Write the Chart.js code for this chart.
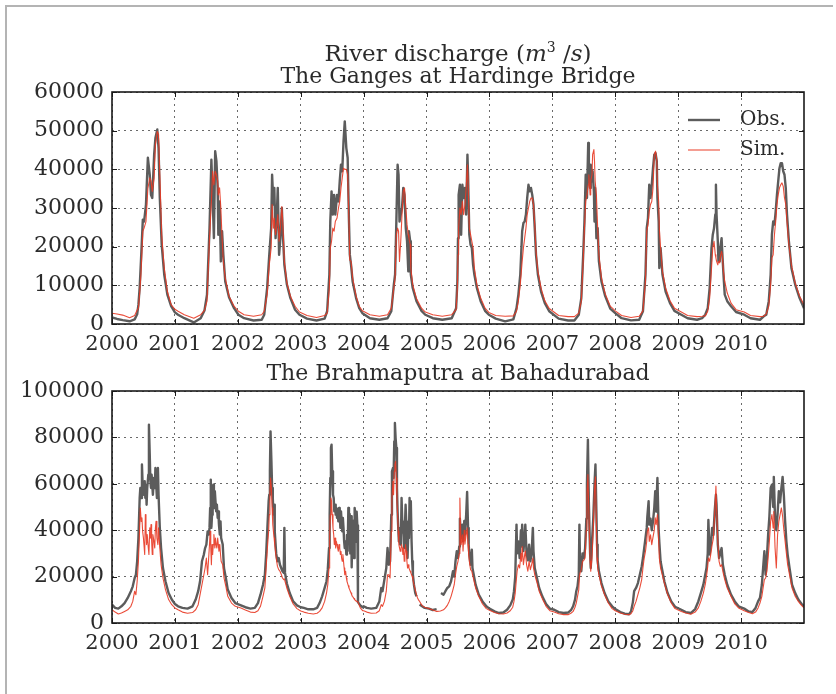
<!DOCTYPE html>
<html>
<head>
<meta charset="utf-8">
<title>River discharge</title>
<script src="https://cdn.jsdelivr.net/npm/chart.js@4.4.0/dist/chart.umd.min.js"></script>
<style>
body{margin:0;background:#fff;}
#page{position:relative;width:836px;height:694px;overflow:hidden;font-family:"DejaVu Serif",serif;color:#2b2b2b;}
#frame{position:absolute;left:5px;top:5px;width:826px;height:689px;border-left:2px solid #b4b4b4;border-top:2px solid #b4b4b4;}
canvas{position:absolute;left:0;}
.ttl{position:absolute;left:112px;width:692px;text-align:center;white-space:nowrap;line-height:24px;}
</style>
</head>
<body>
<div id="page">
<div id="frame"></div>
<canvas id="ganges" width="836" height="360" style="top:0"></canvas>
<canvas id="brahma" width="836" height="334" style="top:360px"></canvas>
<div class="ttl" style="top:35px;font-size:23px">River discharge (<i>m</i><sup style="font-size:14px">3</sup> /<i>s</i>)</div>
<div class="ttl" style="top:64px;font-size:22px">The Ganges at Hardinge Bridge</div>
<div class="ttl" style="top:361px;font-size:22px">The Brahmaputra at Bahadurabad</div>
</div>
<script>
// decimal years, observed and simulated discharge (m3/s)
const gangesT = [
2000.00,2000.08,2000.17,2000.28,2000.36,2000.40,2000.42,2000.44,2000.46,2000.49,2000.51,2000.54,2000.57,2000.60,2000.62,2000.64,2000.67,2000.69,2000.72,2000.74,2000.76,2000.79,2000.83,2000.88,2000.94,
2001.00,2001.05,2001.15,2001.30,2001.41,2001.47,2001.51,2001.55,2001.58,2001.60,2001.62,2001.64,2001.66,2001.68,2001.69,2001.71,2001.73,2001.75,2001.77,2001.80,2001.86,2001.94,
2002.01,2002.10,2002.25,2002.38,2002.42,2002.466,2002.50,2002.53,2002.545,2002.566,2002.58,2002.60,2002.62,2002.635,2002.656,2002.677,2002.70,2002.714,2002.74,2002.78,2002.836,2002.91,2002.98,
2003.10,2003.25,2003.38,2003.42,2003.455,2003.47,2003.49,2003.51,2003.53,2003.55,2003.577,2003.60,2003.62,2003.64,2003.66,2003.68,2003.70,2003.725,2003.746,2003.767,2003.78,2003.80,2003.825,2003.88,2003.93,2003.98,
2004.10,2004.25,2004.38,2004.44,2004.48,2004.50,2004.52,2004.54,2004.555,2004.57,2004.59,2004.61,2004.63,2004.65,2004.67,2004.69,2004.71,2004.72,2004.74,2004.75,2004.78,2004.84,2004.92,2004.98,
2005.10,2005.25,2005.40,2005.47,2005.49,2005.50,2005.51,2005.53,2005.55,2005.57,2005.59,2005.61,2005.63,2005.65,2005.66,2005.68,2005.70,2005.72,2005.74,2005.76,2005.80,2005.86,2005.93,2005.99,
2006.10,2006.25,2006.38,2006.43,2006.46,2006.49,2006.52,2006.54,2006.56,2006.58,2006.60,2006.62,2006.64,2006.66,2006.68,2006.70,2006.72,2006.74,2006.77,2006.82,2006.88,2006.95,
2007.10,2007.25,2007.35,2007.42,2007.46,2007.49,2007.51,2007.53,2007.55,2007.57,2007.58,2007.60,2007.61,2007.63,2007.64,2007.66,2007.67,2007.68,2007.70,2007.72,2007.74,2007.78,2007.84,2007.92,
2008.00,2008.10,2008.25,2008.38,2008.44,2008.48,2008.50,2008.52,2008.54,2008.56,2008.58,2008.60,2008.62,2008.64,2008.66,2008.67,2008.69,2008.70,2008.72,2008.75,2008.80,2008.87,2008.94,
2009.05,2009.15,2009.30,2009.38,2009.43,2009.47,2009.50,2009.53,2009.55,2009.57,2009.59,2009.60,2009.61,2009.63,2009.64,2009.66,2009.67,2009.69,2009.70,2009.72,2009.74,2009.78,2009.84,2009.92,
2010.05,2010.15,2010.30,2010.36,2010.40,2010.44,2010.47,2010.49,2010.51,2010.53,2010.55,2010.57,2010.59,2010.61,2010.63,2010.65,2010.67,2010.69,2010.71,2010.73,2010.76,2010.80,2010.86,2010.93,2011.00
];
const gangesObs = [
1700,1300,1000,700,1200,2500,5000,9500,16200,27000,26500,30900,43000,38600,33400,32600,43800,48100,50300,45500,32600,20500,12800,7600,4600,
3000,2400,1500,400,1500,3500,7600,24800,42500,32600,22200,44700,42100,35200,23100,31700,16200,24000,17900,11000,6900,4100,
2400,1500,900,1100,2400,9300,17900,24800,38600,30900,35200,22200,28300,35200,17900,22200,30000,24000,15300,10200,6700,3700,2400,
1400,900,1400,3300,12800,26500,34300,28300,33400,28300,33400,31700,36900,41200,39500,47200,52400,45500,43000,26500,18000,15300,11000,6700,4100,2800,
1500,1100,1500,3300,10200,12800,26500,41200,38600,26500,28300,30000,35200,33400,24800,21400,13600,24000,21400,12800,9300,5900,3400,2400,
1500,1100,1500,4100,11000,22200,33400,36000,23100,36000,32600,35200,28300,43800,38600,23100,20500,19700,15300,12800,9300,5900,3400,2400,
1400,700,1200,4100,7600,12800,24000,26100,26500,28300,32600,36000,34300,35200,33400,30900,24800,17900,12800,8400,5400,3300,
1400,900,900,2400,6700,17900,26500,38600,32600,46800,39500,35200,41200,36900,39500,34300,26500,35200,22200,24800,16200,11000,7200,4000,
2800,1500,950,1100,3300,12800,24800,27400,36000,32600,36000,40300,43800,44200,42100,32600,26500,14500,19700,12800,8400,5400,3400,
2400,1500,1100,1500,2400,4100,9300,19700,23100,24800,28300,36000,28300,21400,16200,16200,19700,22200,18800,12800,7600,5900,4600,3100,
2400,1500,1100,2000,2400,5900,12800,23100,26500,25700,29100,33400,36900,40300,41600,41600,39500,38600,35200,28300,21400,14500,10200,6700,4100
];
const gangesSim = [
2800,2600,2300,1600,2200,3600,4100,8000,12800,24000,24800,26500,35000,37800,37000,34300,37800,46400,49800,49000,38600,23100,14500,8400,5000,
3800,3300,2400,1500,2400,3500,5900,22200,31700,39500,36000,39500,38600,37000,33400,35200,30000,22200,16200,11900,7200,4600,
3300,2400,2000,2400,3300,7600,15300,19700,30900,24800,27400,23100,25700,28300,21400,24800,30400,26500,16200,10600,7200,4600,3100,
2200,1700,2200,2800,9300,19700,21400,24800,24000,26500,27400,30000,31700,35200,37800,40300,40000,40000,38600,26500,16500,16200,11900,7200,4600,3400,
2400,2000,2400,4100,9300,11900,23100,24800,24000,16200,21400,28300,34300,35200,30000,25700,23100,22200,20500,14500,10200,6600,4100,3100,
2400,2000,2400,3700,9300,17900,24800,30000,28300,31700,28300,30900,35200,41200,37000,24800,23100,21400,19700,14500,10200,6700,4100,3000,
2200,2000,2100,3300,5900,10200,16200,19700,22200,24800,28300,30000,31700,32600,32600,30900,25700,18800,13600,9300,6000,4000,
2200,1900,1900,2800,5900,16200,24800,31700,33400,36000,38600,33400,37000,38600,43800,45100,42100,37000,33400,24800,17900,11900,7800,4600,
3400,2200,1700,2000,3400,11000,24000,25700,29100,30900,31700,35200,43800,44700,42500,36000,31700,24800,19700,13600,9300,6000,4100,
3100,2200,1900,2000,2100,3300,6700,14500,19700,21400,17900,17100,16200,15300,16200,15800,17500,18800,17900,13600,11000,8000,5400,3700,
3100,2200,1900,2000,2600,4600,10200,17100,17900,23100,26500,30900,33400,35200,36000,36500,35600,32600,30900,26500,20500,15300,10600,7200,5000
];

const brahmaT = [
2000.00,2000.05,2000.10,2000.15,2000.20,2000.25,2000.30,2000.33,2000.36,2000.38,2000.40,2000.42,2000.44,2000.45,2000.465,2000.476,2000.487,2000.50,2000.52,2000.53,2000.54,2000.55,2000.56,2000.577,2000.587,2000.60,2000.61,2000.62,2000.63,2000.64,2000.65,2000.667,2000.68,2000.69,2000.70,2000.714,2000.73,2000.74,2000.76,2000.78,2000.81,2000.85,2000.90,2000.95,
2001.00,2001.05,2001.12,2001.20,2001.28,2001.33,2001.37,2001.40,2001.43,2001.46,2001.48,2001.50,2001.52,2001.54,2001.55,2001.56,2001.57,2001.58,2001.59,2001.60,2001.61,2001.62,2001.635,2001.645,2001.656,2001.667,2001.68,2001.69,2001.70,2001.714,2001.725,2001.735,2001.76,2001.78,2001.81,2001.84,2001.90,2001.96,
2002.05,2002.12,2002.20,2002.27,2002.32,2002.36,2002.40,2002.43,2002.45,2002.47,2002.49,2002.50,2002.51,2002.52,2002.534,2002.545,2002.556,2002.566,2002.577,2002.587,2002.61,2002.63,2002.65,2002.67,2002.69,2002.71,2002.73,2002.74,2002.75,2002.78,2002.825,2002.88,2002.94,
2003.00,2003.05,2003.12,2003.20,2003.26,2003.30,2003.34,2003.38,2003.41,2003.43,2003.45,2003.46,2003.47,2003.48,2003.49,2003.50,2003.513,2003.524,2003.534,2003.545,2003.556,2003.566,2003.577,2003.587,2003.598,2003.61,2003.62,2003.63,2003.64,2003.65,2003.66,2003.67,2003.68,2003.69,2003.70,2003.714,2003.725,2003.735,2003.746,2003.757,2003.767,2003.778,2003.788,2003.80,2003.81,2003.82,2003.836,2003.847,2003.857,2003.868,2003.878,2003.889,2003.90,2003.91,2003.947,2003.984,
2004.00,2004.05,2004.12,2004.20,2004.25,2004.28,2004.30,2004.33,2004.36,2004.38,2004.40,2004.42,2004.44,2004.45,2004.466,2004.476,2004.487,2004.497,2004.508,2004.52,2004.53,2004.54,2004.55,2004.56,2004.571,2004.582,2004.593,2004.603,2004.614,2004.624,2004.635,2004.645,2004.656,2004.667,2004.677,2004.688,2004.698,2004.709,2004.72,2004.73,2004.74,2004.75,2004.762,2004.772,2004.783,2004.80,2004.82,2004.84,2004.857,2004.88,2004.89,2004.93,2004.97,
2005.04,2005.10,2005.16,2005.17,2005.22,2005.23,2005.27,2005.30,2005.33,2005.36,2005.39,2005.42,2005.44,2005.46,2005.48,2005.50,2005.52,2005.53,2005.54,2005.55,2005.57,2005.58,2005.60,2005.61,2005.63,2005.645,2005.66,2005.67,2005.68,2005.70,2005.72,2005.73,2005.75,2005.78,2005.83,2005.89,2005.95,
2006.00,2006.08,2006.15,2006.22,2006.28,2006.33,2006.37,2006.39,2006.41,2006.43,2006.44,2006.46,2006.48,2006.50,2006.51,2006.52,2006.54,2006.56,2006.57,2006.59,2006.61,2006.63,2006.65,2006.67,2006.69,2006.70,2006.72,2006.75,2006.79,2006.84,2006.90,2006.96,
2007.03,2007.10,2007.18,2007.25,2007.30,2007.33,2007.36,2007.38,2007.40,2007.42,2007.43,2007.44,2007.46,2007.48,2007.50,2007.52,2007.54,2007.55,2007.565,2007.58,2007.60,2007.61,2007.63,2007.65,2007.67,2007.685,2007.70,2007.71,2007.72,2007.74,2007.78,2007.83,2007.89,2007.95,
2008.00,2008.08,2008.15,2008.22,2008.25,2008.28,2008.30,2008.33,2008.36,2008.39,2008.42,2008.44,2008.46,2008.48,2008.50,2008.51,2008.53,2008.54,2008.56,2008.58,2008.60,2008.62,2008.635,2008.65,2008.67,2008.69,2008.70,2008.72,2008.74,2008.78,2008.83,2008.89,2008.95,
2009.05,2009.12,2009.20,2009.27,2009.32,2009.36,2009.40,2009.43,2009.45,2009.47,2009.48,2009.50,2009.52,2009.54,2009.56,2009.58,2009.60,2009.61,2009.63,2009.65,2009.67,2009.69,2009.71,2009.74,2009.78,2009.84,2009.90,2009.96,
2010.05,2010.12,2010.18,2010.23,2010.27,2010.30,2010.33,2010.35,2010.37,2010.39,2010.41,2010.43,2010.45,2010.47,2010.49,2010.51,2010.52,2010.54,2010.56,2010.58,2010.60,2010.62,2010.64,2010.66,2010.68,2010.70,2010.72,2010.74,2010.77,2010.81,2010.86,2010.91,2010.96,2011.00
];
const brahmaObs = [
7900,6500,6200,7200,8600,10800,13700,15800,19400,20800,26600,36600,53900,58200,53900,68300,59600,55300,61100,53900,59600,51000,58200,63900,85500,72600,61100,58200,63900,59600,55300,62500,58200,66800,61100,53900,66800,55300,41000,32300,23700,18000,12900,10100,
8200,7200,6500,6200,7200,10100,13700,18000,26600,29500,32300,33800,39500,38100,41000,49600,61800,41000,46700,53900,59600,49600,56800,52500,48100,51000,45300,48100,42400,38100,43800,36600,33800,23700,19400,14400,10800,8600,
7600,6800,6200,6500,8600,12200,16500,20800,29500,41000,52500,55300,65400,82600,69700,58200,53900,46700,51000,39500,30000,26600,28000,25100,23700,22300,21600,41000,21600,17000,12900,9300,7600,
6800,6500,5900,5900,6500,8600,11500,15100,18000,23000,32300,46700,62500,75400,76900,65400,55300,53900,48100,51000,46700,49600,45300,48900,43800,49600,46700,41000,48100,43800,39500,45300,41000,35200,32300,35200,29500,38000,31000,49600,36600,47000,30000,46000,24000,38000,44000,28000,49600,47000,35000,48000,42000,9000,7600,6800,
7200,6500,6200,6500,9300,15100,13700,18700,23700,32300,25100,26600,46700,65400,66800,62500,78300,86200,79800,75400,58200,48100,41000,35200,38100,33800,36600,53900,43800,41000,38100,32300,41000,51000,43800,33800,28000,38100,36600,53900,43800,52500,35200,26600,20800,16500,13000,11500,null,null,8000,7200,6500,
6200,5600,6000,null,null,12900,12200,13700,15100,15800,18000,22300,20000,26600,30900,28000,33000,45000,40000,36600,42400,35200,44000,38100,46700,56500,41000,33800,29500,25100,31600,23700,20800,16500,12200,9300,7200,
6200,5000,4300,4500,5700,7600,10100,13700,20000,42400,30000,35200,28000,40000,33000,42400,31000,37000,42400,30000,27000,33800,26600,30000,41000,31000,23700,20000,15100,11500,8200,6200,
5700,4700,4300,4500,5700,7200,10100,13700,15800,20800,42400,25100,22300,30000,28000,32000,45000,60000,79000,52000,30000,23700,35000,45000,60000,68300,48000,33800,27000,22300,17200,12900,9300,7200,
6000,4700,4000,3800,5000,9000,13700,15100,17200,20800,24400,28000,32300,36600,41000,46000,52500,42400,45000,40000,43800,49600,56800,48000,62500,40000,35000,26600,23700,18000,13000,9300,7000,
5700,4700,4300,6000,9300,12900,16500,20800,23700,30000,44400,29500,33800,41000,38000,48000,55300,51000,33800,28000,30000,32300,25100,20800,16500,12200,9300,7200,
6200,5000,4700,6500,9300,10800,16500,23700,30900,20800,28000,38100,46000,58200,59600,50000,63000,45000,40000,47000,56800,52000,58000,63000,55000,43800,35200,29500,23700,16500,12900,10100,8300,7200
];
const brahmaSim = [
5700,4700,3900,4300,5000,5700,7200,9300,13700,12200,18000,26600,41000,49600,43800,45300,39500,36600,29500,46700,41000,33800,38100,32300,29500,41000,36600,42400,35200,29500,38100,35200,32300,41000,43800,36600,33800,41000,32300,25100,19400,14400,10100,7900,
6500,5700,4700,4200,4500,5700,7900,12200,16500,20800,23700,28000,20800,29500,33800,39500,32300,25100,33800,29500,33800,38100,32300,36600,33800,32300,36600,33800,30900,33800,29500,26600,25100,19400,15800,11500,8600,7200,
6500,5600,4700,4500,5300,7200,11500,15100,23700,32300,39500,46700,55300,62500,58200,49600,42400,39500,36600,33800,28000,24400,23000,22300,21000,19400,18700,19000,18000,15000,11500,8200,6200,
5200,4700,4200,3900,4200,5000,6500,9300,12900,16500,23700,36600,46700,53900,52500,46700,41000,38100,33800,36600,32300,35200,33800,32300,30900,33800,32300,29500,30900,28000,26600,29500,26600,23700,20800,22300,19400,18000,17000,16000,15100,14400,13700,12900,12200,11500,11000,10500,10100,9800,9500,9300,9200,9000,6500,5300,
5300,4700,4200,4300,5300,7900,7200,9300,13700,20800,20800,19400,39500,53900,61100,55300,65400,68300,69700,62500,52500,46700,39500,33800,32300,30900,32300,33800,32300,29500,32300,26600,29500,33800,30900,26600,23700,25100,23700,23000,22300,21600,20800,20100,18700,16500,14400,12200,10800,9600,9300,7500,6800,
6200,5600,5000,5000,5200,5300,5700,6500,7600,9300,11500,14400,16500,20800,24400,26600,30000,53900,42000,33800,38000,31000,40000,34000,38100,41000,33800,29500,26600,23000,22300,21000,18700,15100,11500,8200,6200,
5500,4500,4000,3900,4300,5300,6800,9300,12900,19400,22300,25100,23700,30000,26600,33000,25100,29500,31000,25100,22300,26600,23000,25100,28000,23700,20800,18000,13700,10500,7200,5300,
4700,4000,3600,3600,4300,5000,6800,8600,11500,14400,20000,21600,23000,26600,27000,28000,40000,55000,64000,48000,26600,22300,28000,40000,58000,63000,42000,28000,24000,20800,16000,12200,8600,6200,
5300,4300,3800,3600,4000,5300,7200,9300,12200,15100,18700,23700,28000,30900,35200,39500,41000,35200,38000,33800,37000,40000,45300,42400,46700,35200,28000,23700,21600,17200,12500,8600,6200,
5000,4300,3800,4700,6500,9300,12900,16500,20100,24400,28000,26600,30000,33800,36600,46700,59000,50000,35200,26600,24400,25100,22300,18700,15100,11500,8200,6500,
5300,4500,4000,4700,6500,8600,11500,15100,18700,19400,22300,28000,35200,43800,46700,41000,48000,32300,23700,38000,43800,46700,49600,46000,40000,35200,30000,25100,20800,15100,11500,9300,7600,6500
];

const yearLabels = ['2000','2001','2002','2003','2004','2005','2006','2007','2008','2009','2010'];
const gangesTicks = [0, 10000, 20000, 30000, 40000, 50000, 60000];
const brahmaTicks = [0, 20000, 40000, 60000, 80000, 100000];
const seriesNames = ['Obs.', 'Sim.'];

const serif = 'DejaVu Serif';
const textColor = '#2b2b2b';

function points(t, v){
  return t.map((x, i) => ({x: x, y: v[i]}));
}

// black box round the plot, with matplotlib style inward ticks
const axesFrame = {
  id: 'axesFrame',
  afterDraw(chart){
    const ctx = chart.ctx, a = chart.chartArea;
    const x = chart.scales.x, y = chart.scales.y;
    ctx.save();
    ctx.strokeStyle = '#1a1a1a';
    ctx.lineWidth = 1;
    ctx.beginPath();
    x.ticks.forEach(t => {
      const px = Math.round(x.getPixelForValue(t.value)) + 0.5;
      ctx.moveTo(px, a.bottom); ctx.lineTo(px, a.bottom - 5);
      ctx.moveTo(px, a.top); ctx.lineTo(px, a.top + 5);
    });
    y.ticks.forEach(t => {
      const py = Math.round(y.getPixelForValue(t.value)) + 0.5;
      ctx.moveTo(a.left, py); ctx.lineTo(a.left + 5, py);
      ctx.moveTo(a.right, py); ctx.lineTo(a.right - 5, py);
    });
    ctx.stroke();
    ctx.lineWidth = 1.6;
    ctx.strokeRect(a.left, a.top, a.right - a.left, a.bottom - a.top);
    ctx.restore();
  }
};

// line samples + names in the upper right corner
const seriesKey = {
  id: 'seriesKey',
  afterDraw(chart){
    const ctx = chart.ctx, a = chart.chartArea;
    ctx.save();
    ctx.font = '20px "' + serif + '"';
    ctx.textBaseline = 'middle';
    chart.data.datasets.forEach((ds, i) => {
      const yy = a.top + 28 + i * 30;
      ctx.strokeStyle = ds.borderColor;
      ctx.lineWidth = ds.borderWidth;
      ctx.beginPath();
      ctx.moveTo(a.right - 116, yy);
      ctx.lineTo(a.right - 84, yy);
      ctx.stroke();
      ctx.fillStyle = textColor;
      ctx.fillText(ds.label, a.right - 64, yy);
    });
    ctx.restore();
  }
};

function makeChart(id, t, obs, sim, yTicks, padTop, xHeight, withKey){
  const yMax = yTicks[yTicks.length - 1];
  const plugins = [axesFrame];
  if (withKey) plugins.push(seriesKey);
  return new Chart(document.getElementById(id), {
    type: 'line',
    data: {
      datasets: [{
        label: seriesNames[0],
        data: points(t, obs),
        borderColor: '#5c5c5c',
        borderWidth: 2.4,
        order: 2
      }, {
        label: seriesNames[1],
        data: points(t, sim),
        borderColor: 'rgba(232,56,36,0.9)',
        borderWidth: 1.1,
        order: 1
      }]
    },
    options: {
      responsive: false,
      animation: false,
      events: [],
      spanGaps: false,
      elements: {
        point: {radius: 0, hoverRadius: 0},
        line: {tension: 0, fill: false, borderJoinStyle: 'round'}
      },
      layout: {padding: {left: 0, right: 32, top: padTop, bottom: 0}},
      plugins: {legend: {display: false}, tooltip: {enabled: false}, title: {display: false}},
      scales: {
        x: {
          type: 'linear',
          min: 2000,
          max: 2011,
          afterBuildTicks: s => { s.ticks = yearLabels.map(v => ({value: Number(v)})); },
          afterFit: s => { s.height = xHeight; },
          grid: {color: '#6a6a6a', lineWidth: 1, drawTicks: false},
          border: {display: false, dash: [2, 4]},
          ticks: {
            autoSkip: false, maxRotation: 0, padding: 8,
            color: textColor, font: {family: serif, size: 21},
            callback: v => String(v)
          }
        },
        y: {
          min: 0,
          max: yMax,
          afterBuildTicks: s => { s.ticks = yTicks.map(v => ({value: v})); },
          afterFit: s => { s.width = 112; },
          grid: {color: '#6a6a6a', lineWidth: 1, drawTicks: false},
          border: {display: false, dash: [2, 4]},
          ticks: {
            padding: 8,
            color: textColor, font: {family: serif, size: 22},
            callback: v => String(v)
          }
        }
      }
    },
    plugins: plugins
  });
}

makeChart('ganges', gangesT, gangesObs, gangesSim, gangesTicks, 92, 36, true);
makeChart('brahma', brahmaT, brahmaObs, brahmaSim, brahmaTicks, 31, 71, false);
</script>
</body>
</html>
